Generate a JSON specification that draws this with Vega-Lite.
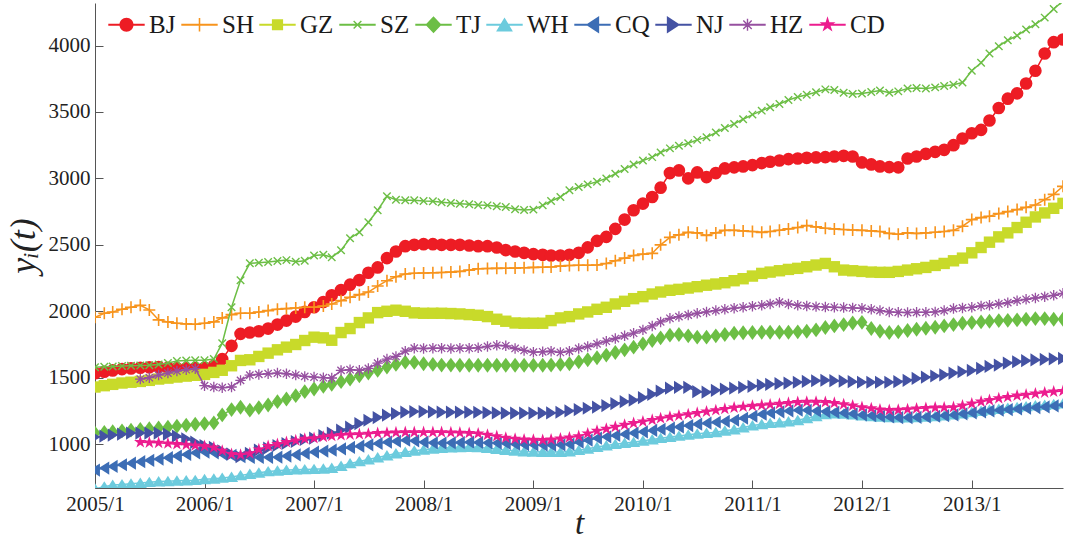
{
"$schema":"https://vega.github.io/schema/vega-lite/v6.json",
"width":968,"height":485,
"autosize":{"type":"none"},
"padding":{"left":95,"top":3,"right":2,"bottom":56},
"background":"white",
"config":{"view":{"stroke":null},"font":"'Liberation Serif', 'DejaVu Serif', 'Times New Roman', serif"},
"datasets":{"d":[
{"t":"2005-01","c":"BJ","v":1534},{"t":"2005-02","c":"BJ","v":1545},{"t":"2005-03","c":"BJ","v":1555},{"t":"2005-04","c":"BJ","v":1565},{"t":"2005-05","c":"BJ","v":1570},{"t":"2005-06","c":"BJ","v":1575},{"t":"2005-07","c":"BJ","v":1578},{"t":"2005-08","c":"BJ","v":1580},{"t":"2005-09","c":"BJ","v":1575},{"t":"2005-10","c":"BJ","v":1572},{"t":"2005-11","c":"BJ","v":1570},{"t":"2005-12","c":"BJ","v":1572},
{"t":"2006-01","c":"BJ","v":1575},{"t":"2006-02","c":"BJ","v":1590},{"t":"2006-03","c":"BJ","v":1640},{"t":"2006-04","c":"BJ","v":1740},{"t":"2006-05","c":"BJ","v":1830},{"t":"2006-06","c":"BJ","v":1840},{"t":"2006-07","c":"BJ","v":1850},{"t":"2006-08","c":"BJ","v":1870},{"t":"2006-09","c":"BJ","v":1900},{"t":"2006-10","c":"BJ","v":1930},{"t":"2006-11","c":"BJ","v":1960},{"t":"2006-12","c":"BJ","v":1995},
{"t":"2007-01","c":"BJ","v":2030},{"t":"2007-02","c":"BJ","v":2070},{"t":"2007-03","c":"BJ","v":2120},{"t":"2007-04","c":"BJ","v":2160},{"t":"2007-05","c":"BJ","v":2200},{"t":"2007-06","c":"BJ","v":2235},{"t":"2007-07","c":"BJ","v":2290},{"t":"2007-08","c":"BJ","v":2330},{"t":"2007-09","c":"BJ","v":2400},{"t":"2007-10","c":"BJ","v":2450},{"t":"2007-11","c":"BJ","v":2490},{"t":"2007-12","c":"BJ","v":2500},
{"t":"2008-01","c":"BJ","v":2505},{"t":"2008-02","c":"BJ","v":2505},{"t":"2008-03","c":"BJ","v":2500},{"t":"2008-04","c":"BJ","v":2500},{"t":"2008-05","c":"BJ","v":2500},{"t":"2008-06","c":"BJ","v":2495},{"t":"2008-07","c":"BJ","v":2490},{"t":"2008-08","c":"BJ","v":2490},{"t":"2008-09","c":"BJ","v":2480},{"t":"2008-10","c":"BJ","v":2460},{"t":"2008-11","c":"BJ","v":2450},{"t":"2008-12","c":"BJ","v":2440},
{"t":"2009-01","c":"BJ","v":2430},{"t":"2009-02","c":"BJ","v":2425},{"t":"2009-03","c":"BJ","v":2420},{"t":"2009-04","c":"BJ","v":2420},{"t":"2009-05","c":"BJ","v":2425},{"t":"2009-06","c":"BJ","v":2440},{"t":"2009-07","c":"BJ","v":2481},{"t":"2009-08","c":"BJ","v":2530},{"t":"2009-09","c":"BJ","v":2560},{"t":"2009-10","c":"BJ","v":2620},{"t":"2009-11","c":"BJ","v":2690},{"t":"2009-12","c":"BJ","v":2760},
{"t":"2010-01","c":"BJ","v":2810},{"t":"2010-02","c":"BJ","v":2860},{"t":"2010-03","c":"BJ","v":2930},{"t":"2010-04","c":"BJ","v":3040},{"t":"2010-05","c":"BJ","v":3060},{"t":"2010-06","c":"BJ","v":3000},{"t":"2010-07","c":"BJ","v":3045},{"t":"2010-08","c":"BJ","v":3010},{"t":"2010-09","c":"BJ","v":3040},{"t":"2010-10","c":"BJ","v":3075},{"t":"2010-11","c":"BJ","v":3083},{"t":"2010-12","c":"BJ","v":3090},
{"t":"2011-01","c":"BJ","v":3100},{"t":"2011-02","c":"BJ","v":3115},{"t":"2011-03","c":"BJ","v":3125},{"t":"2011-04","c":"BJ","v":3135},{"t":"2011-05","c":"BJ","v":3145},{"t":"2011-06","c":"BJ","v":3150},{"t":"2011-07","c":"BJ","v":3155},{"t":"2011-08","c":"BJ","v":3158},{"t":"2011-09","c":"BJ","v":3160},{"t":"2011-10","c":"BJ","v":3165},{"t":"2011-11","c":"BJ","v":3170},{"t":"2011-12","c":"BJ","v":3165},
{"t":"2012-01","c":"BJ","v":3120},{"t":"2012-02","c":"BJ","v":3105},{"t":"2012-03","c":"BJ","v":3090},{"t":"2012-04","c":"BJ","v":3085},{"t":"2012-05","c":"BJ","v":3083},{"t":"2012-06","c":"BJ","v":3150},{"t":"2012-07","c":"BJ","v":3165},{"t":"2012-08","c":"BJ","v":3185},{"t":"2012-09","c":"BJ","v":3200},{"t":"2012-10","c":"BJ","v":3215},{"t":"2012-11","c":"BJ","v":3250},{"t":"2012-12","c":"BJ","v":3300},
{"t":"2013-01","c":"BJ","v":3340},{"t":"2013-02","c":"BJ","v":3365},{"t":"2013-03","c":"BJ","v":3436},{"t":"2013-04","c":"BJ","v":3530},{"t":"2013-05","c":"BJ","v":3600},{"t":"2013-06","c":"BJ","v":3640},{"t":"2013-07","c":"BJ","v":3714},{"t":"2013-08","c":"BJ","v":3810},{"t":"2013-09","c":"BJ","v":3940},{"t":"2013-10","c":"BJ","v":4025},{"t":"2013-11","c":"BJ","v":4045},
{"t":"2005-01","c":"SH","v":1955},{"t":"2005-02","c":"SH","v":1985},{"t":"2005-03","c":"SH","v":1995},{"t":"2005-04","c":"SH","v":2015},{"t":"2005-05","c":"SH","v":2030},{"t":"2005-06","c":"SH","v":2045},{"t":"2005-07","c":"SH","v":2010},{"t":"2005-08","c":"SH","v":1935},{"t":"2005-09","c":"SH","v":1920},{"t":"2005-10","c":"SH","v":1910},{"t":"2005-11","c":"SH","v":1905},{"t":"2005-12","c":"SH","v":1902},
{"t":"2006-01","c":"SH","v":1910},{"t":"2006-02","c":"SH","v":1920},{"t":"2006-03","c":"SH","v":1950},{"t":"2006-04","c":"SH","v":1975},{"t":"2006-05","c":"SH","v":1985},{"t":"2006-06","c":"SH","v":1985},{"t":"2006-07","c":"SH","v":1995},{"t":"2006-08","c":"SH","v":2005},{"t":"2006-09","c":"SH","v":2015},{"t":"2006-10","c":"SH","v":2020},{"t":"2006-11","c":"SH","v":2025},{"t":"2006-12","c":"SH","v":2030},
{"t":"2007-01","c":"SH","v":2030},{"t":"2007-02","c":"SH","v":2040},{"t":"2007-03","c":"SH","v":2055},{"t":"2007-04","c":"SH","v":2080},{"t":"2007-05","c":"SH","v":2105},{"t":"2007-06","c":"SH","v":2125},{"t":"2007-07","c":"SH","v":2145},{"t":"2007-08","c":"SH","v":2190},{"t":"2007-09","c":"SH","v":2230},{"t":"2007-10","c":"SH","v":2260},{"t":"2007-11","c":"SH","v":2280},{"t":"2007-12","c":"SH","v":2286},
{"t":"2008-01","c":"SH","v":2288},{"t":"2008-02","c":"SH","v":2290},{"t":"2008-03","c":"SH","v":2292},{"t":"2008-04","c":"SH","v":2295},{"t":"2008-05","c":"SH","v":2300},{"t":"2008-06","c":"SH","v":2310},{"t":"2008-07","c":"SH","v":2320},{"t":"2008-08","c":"SH","v":2322},{"t":"2008-09","c":"SH","v":2323},{"t":"2008-10","c":"SH","v":2324},{"t":"2008-11","c":"SH","v":2325},{"t":"2008-12","c":"SH","v":2327},
{"t":"2009-01","c":"SH","v":2330},{"t":"2009-02","c":"SH","v":2331},{"t":"2009-03","c":"SH","v":2333},{"t":"2009-04","c":"SH","v":2340},{"t":"2009-05","c":"SH","v":2345},{"t":"2009-06","c":"SH","v":2346},{"t":"2009-07","c":"SH","v":2346},{"t":"2009-08","c":"SH","v":2348},{"t":"2009-09","c":"SH","v":2360},{"t":"2009-10","c":"SH","v":2380},{"t":"2009-11","c":"SH","v":2400},{"t":"2009-12","c":"SH","v":2420},
{"t":"2010-01","c":"SH","v":2430},{"t":"2010-02","c":"SH","v":2436},{"t":"2010-03","c":"SH","v":2500},{"t":"2010-04","c":"SH","v":2556},{"t":"2010-05","c":"SH","v":2575},{"t":"2010-06","c":"SH","v":2594},{"t":"2010-07","c":"SH","v":2590},{"t":"2010-08","c":"SH","v":2571},{"t":"2010-09","c":"SH","v":2590},{"t":"2010-10","c":"SH","v":2609},{"t":"2010-11","c":"SH","v":2609},{"t":"2010-12","c":"SH","v":2605},
{"t":"2011-01","c":"SH","v":2600},{"t":"2011-02","c":"SH","v":2594},{"t":"2011-03","c":"SH","v":2600},{"t":"2011-04","c":"SH","v":2610},{"t":"2011-05","c":"SH","v":2620},{"t":"2011-06","c":"SH","v":2630},{"t":"2011-07","c":"SH","v":2645},{"t":"2011-08","c":"SH","v":2635},{"t":"2011-09","c":"SH","v":2625},{"t":"2011-10","c":"SH","v":2620},{"t":"2011-11","c":"SH","v":2615},{"t":"2011-12","c":"SH","v":2612},
{"t":"2012-01","c":"SH","v":2609},{"t":"2012-02","c":"SH","v":2605},{"t":"2012-03","c":"SH","v":2600},{"t":"2012-04","c":"SH","v":2586},{"t":"2012-05","c":"SH","v":2580},{"t":"2012-06","c":"SH","v":2590},{"t":"2012-07","c":"SH","v":2586},{"t":"2012-08","c":"SH","v":2590},{"t":"2012-09","c":"SH","v":2595},{"t":"2012-10","c":"SH","v":2600},{"t":"2012-11","c":"SH","v":2609},{"t":"2012-12","c":"SH","v":2640},
{"t":"2013-01","c":"SH","v":2690},{"t":"2013-02","c":"SH","v":2705},{"t":"2013-03","c":"SH","v":2715},{"t":"2013-04","c":"SH","v":2735},{"t":"2013-05","c":"SH","v":2750},{"t":"2013-06","c":"SH","v":2765},{"t":"2013-07","c":"SH","v":2782},{"t":"2013-08","c":"SH","v":2800},{"t":"2013-09","c":"SH","v":2840},{"t":"2013-10","c":"SH","v":2880},{"t":"2013-11","c":"SH","v":2940},
{"t":"2005-01","c":"GZ","v":1430},{"t":"2005-02","c":"GZ","v":1440},{"t":"2005-03","c":"GZ","v":1450},{"t":"2005-04","c":"GZ","v":1460},{"t":"2005-05","c":"GZ","v":1466},{"t":"2005-06","c":"GZ","v":1472},{"t":"2005-07","c":"GZ","v":1480},{"t":"2005-08","c":"GZ","v":1490},{"t":"2005-09","c":"GZ","v":1497},{"t":"2005-10","c":"GZ","v":1505},{"t":"2005-11","c":"GZ","v":1512},{"t":"2005-12","c":"GZ","v":1518},
{"t":"2006-01","c":"GZ","v":1525},{"t":"2006-02","c":"GZ","v":1540},{"t":"2006-03","c":"GZ","v":1556},{"t":"2006-04","c":"GZ","v":1590},{"t":"2006-05","c":"GZ","v":1630},{"t":"2006-06","c":"GZ","v":1635},{"t":"2006-07","c":"GZ","v":1660},{"t":"2006-08","c":"GZ","v":1685},{"t":"2006-09","c":"GZ","v":1710},{"t":"2006-10","c":"GZ","v":1730},{"t":"2006-11","c":"GZ","v":1750},{"t":"2006-12","c":"GZ","v":1780},
{"t":"2007-01","c":"GZ","v":1805},{"t":"2007-02","c":"GZ","v":1800},{"t":"2007-03","c":"GZ","v":1782},{"t":"2007-04","c":"GZ","v":1840},{"t":"2007-05","c":"GZ","v":1870},{"t":"2007-06","c":"GZ","v":1915},{"t":"2007-07","c":"GZ","v":1950},{"t":"2007-08","c":"GZ","v":1990},{"t":"2007-09","c":"GZ","v":2000},{"t":"2007-10","c":"GZ","v":2008},{"t":"2007-11","c":"GZ","v":2000},{"t":"2007-12","c":"GZ","v":1988},
{"t":"2008-01","c":"GZ","v":1985},{"t":"2008-02","c":"GZ","v":1985},{"t":"2008-03","c":"GZ","v":1985},{"t":"2008-04","c":"GZ","v":1983},{"t":"2008-05","c":"GZ","v":1980},{"t":"2008-06","c":"GZ","v":1975},{"t":"2008-07","c":"GZ","v":1970},{"t":"2008-08","c":"GZ","v":1960},{"t":"2008-09","c":"GZ","v":1940},{"t":"2008-10","c":"GZ","v":1925},{"t":"2008-11","c":"GZ","v":1912},{"t":"2008-12","c":"GZ","v":1910},
{"t":"2009-01","c":"GZ","v":1910},{"t":"2009-02","c":"GZ","v":1910},{"t":"2009-03","c":"GZ","v":1930},{"t":"2009-04","c":"GZ","v":1950},{"t":"2009-05","c":"GZ","v":1960},{"t":"2009-06","c":"GZ","v":1980},{"t":"2009-07","c":"GZ","v":1995},{"t":"2009-08","c":"GZ","v":2015},{"t":"2009-09","c":"GZ","v":2030},{"t":"2009-10","c":"GZ","v":2055},{"t":"2009-11","c":"GZ","v":2075},{"t":"2009-12","c":"GZ","v":2095},
{"t":"2010-01","c":"GZ","v":2110},{"t":"2010-02","c":"GZ","v":2130},{"t":"2010-03","c":"GZ","v":2145},{"t":"2010-04","c":"GZ","v":2158},{"t":"2010-05","c":"GZ","v":2165},{"t":"2010-06","c":"GZ","v":2175},{"t":"2010-07","c":"GZ","v":2185},{"t":"2010-08","c":"GZ","v":2196},{"t":"2010-09","c":"GZ","v":2205},{"t":"2010-10","c":"GZ","v":2215},{"t":"2010-11","c":"GZ","v":2230},{"t":"2010-12","c":"GZ","v":2245},
{"t":"2011-01","c":"GZ","v":2265},{"t":"2011-02","c":"GZ","v":2285},{"t":"2011-03","c":"GZ","v":2295},{"t":"2011-04","c":"GZ","v":2305},{"t":"2011-05","c":"GZ","v":2315},{"t":"2011-06","c":"GZ","v":2323},{"t":"2011-07","c":"GZ","v":2335},{"t":"2011-08","c":"GZ","v":2348},{"t":"2011-09","c":"GZ","v":2360},{"t":"2011-10","c":"GZ","v":2335},{"t":"2011-11","c":"GZ","v":2310},{"t":"2011-12","c":"GZ","v":2305},
{"t":"2012-01","c":"GZ","v":2300},{"t":"2012-02","c":"GZ","v":2295},{"t":"2012-03","c":"GZ","v":2293},{"t":"2012-04","c":"GZ","v":2293},{"t":"2012-05","c":"GZ","v":2300},{"t":"2012-06","c":"GZ","v":2310},{"t":"2012-07","c":"GZ","v":2320},{"t":"2012-08","c":"GZ","v":2330},{"t":"2012-09","c":"GZ","v":2345},{"t":"2012-10","c":"GZ","v":2360},{"t":"2012-11","c":"GZ","v":2380},{"t":"2012-12","c":"GZ","v":2400},
{"t":"2013-01","c":"GZ","v":2440},{"t":"2013-02","c":"GZ","v":2480},{"t":"2013-03","c":"GZ","v":2520},{"t":"2013-04","c":"GZ","v":2560},{"t":"2013-05","c":"GZ","v":2590},{"t":"2013-06","c":"GZ","v":2630},{"t":"2013-07","c":"GZ","v":2670},{"t":"2013-08","c":"GZ","v":2710},{"t":"2013-09","c":"GZ","v":2740},{"t":"2013-10","c":"GZ","v":2775},{"t":"2013-11","c":"GZ","v":2812},
{"t":"2005-01","c":"SZ","v":1579},{"t":"2005-02","c":"SZ","v":1582},{"t":"2005-03","c":"SZ","v":1585},{"t":"2005-04","c":"SZ","v":1588},{"t":"2005-05","c":"SZ","v":1590},{"t":"2005-06","c":"SZ","v":1592},{"t":"2005-07","c":"SZ","v":1594},{"t":"2005-08","c":"SZ","v":1600},{"t":"2005-09","c":"SZ","v":1610},{"t":"2005-10","c":"SZ","v":1625},{"t":"2005-11","c":"SZ","v":1630},{"t":"2005-12","c":"SZ","v":1632},
{"t":"2006-01","c":"SZ","v":1632},{"t":"2006-02","c":"SZ","v":1640},{"t":"2006-03","c":"SZ","v":1760},{"t":"2006-04","c":"SZ","v":2030},{"t":"2006-05","c":"SZ","v":2233},{"t":"2006-06","c":"SZ","v":2361},{"t":"2006-07","c":"SZ","v":2365},{"t":"2006-08","c":"SZ","v":2370},{"t":"2006-09","c":"SZ","v":2378},{"t":"2006-10","c":"SZ","v":2385},{"t":"2006-11","c":"SZ","v":2372},{"t":"2006-12","c":"SZ","v":2380},
{"t":"2007-01","c":"SZ","v":2420},{"t":"2007-02","c":"SZ","v":2425},{"t":"2007-03","c":"SZ","v":2406},{"t":"2007-04","c":"SZ","v":2460},{"t":"2007-05","c":"SZ","v":2550},{"t":"2007-06","c":"SZ","v":2594},{"t":"2007-07","c":"SZ","v":2670},{"t":"2007-08","c":"SZ","v":2760},{"t":"2007-09","c":"SZ","v":2865},{"t":"2007-10","c":"SZ","v":2840},{"t":"2007-11","c":"SZ","v":2835},{"t":"2007-12","c":"SZ","v":2835},
{"t":"2008-01","c":"SZ","v":2830},{"t":"2008-02","c":"SZ","v":2828},{"t":"2008-03","c":"SZ","v":2820},{"t":"2008-04","c":"SZ","v":2815},{"t":"2008-05","c":"SZ","v":2810},{"t":"2008-06","c":"SZ","v":2805},{"t":"2008-07","c":"SZ","v":2800},{"t":"2008-08","c":"SZ","v":2797},{"t":"2008-09","c":"SZ","v":2790},{"t":"2008-10","c":"SZ","v":2785},{"t":"2008-11","c":"SZ","v":2768},{"t":"2008-12","c":"SZ","v":2762},
{"t":"2009-01","c":"SZ","v":2765},{"t":"2009-02","c":"SZ","v":2797},{"t":"2009-03","c":"SZ","v":2830},{"t":"2009-04","c":"SZ","v":2860},{"t":"2009-05","c":"SZ","v":2910},{"t":"2009-06","c":"SZ","v":2935},{"t":"2009-07","c":"SZ","v":2955},{"t":"2009-08","c":"SZ","v":2975},{"t":"2009-09","c":"SZ","v":3000},{"t":"2009-10","c":"SZ","v":3035},{"t":"2009-11","c":"SZ","v":3070},{"t":"2009-12","c":"SZ","v":3105},
{"t":"2010-01","c":"SZ","v":3135},{"t":"2010-02","c":"SZ","v":3160},{"t":"2010-03","c":"SZ","v":3195},{"t":"2010-04","c":"SZ","v":3226},{"t":"2010-05","c":"SZ","v":3245},{"t":"2010-06","c":"SZ","v":3265},{"t":"2010-07","c":"SZ","v":3290},{"t":"2010-08","c":"SZ","v":3310},{"t":"2010-09","c":"SZ","v":3345},{"t":"2010-10","c":"SZ","v":3380},{"t":"2010-11","c":"SZ","v":3410},{"t":"2010-12","c":"SZ","v":3445},
{"t":"2011-01","c":"SZ","v":3480},{"t":"2011-02","c":"SZ","v":3510},{"t":"2011-03","c":"SZ","v":3535},{"t":"2011-04","c":"SZ","v":3560},{"t":"2011-05","c":"SZ","v":3590},{"t":"2011-06","c":"SZ","v":3612},{"t":"2011-07","c":"SZ","v":3630},{"t":"2011-08","c":"SZ","v":3648},{"t":"2011-09","c":"SZ","v":3670},{"t":"2011-10","c":"SZ","v":3665},{"t":"2011-11","c":"SZ","v":3645},{"t":"2011-12","c":"SZ","v":3635},
{"t":"2012-01","c":"SZ","v":3639},{"t":"2012-02","c":"SZ","v":3650},{"t":"2012-03","c":"SZ","v":3662},{"t":"2012-04","c":"SZ","v":3645},{"t":"2012-05","c":"SZ","v":3655},{"t":"2012-06","c":"SZ","v":3677},{"t":"2012-07","c":"SZ","v":3680},{"t":"2012-08","c":"SZ","v":3677},{"t":"2012-09","c":"SZ","v":3685},{"t":"2012-10","c":"SZ","v":3695},{"t":"2012-11","c":"SZ","v":3705},{"t":"2012-12","c":"SZ","v":3722},
{"t":"2013-01","c":"SZ","v":3810},{"t":"2013-02","c":"SZ","v":3870},{"t":"2013-03","c":"SZ","v":3940},{"t":"2013-04","c":"SZ","v":3995},{"t":"2013-05","c":"SZ","v":4040},{"t":"2013-06","c":"SZ","v":4075},{"t":"2013-07","c":"SZ","v":4120},{"t":"2013-08","c":"SZ","v":4160},{"t":"2013-09","c":"SZ","v":4210},{"t":"2013-10","c":"SZ","v":4275},{"t":"2013-11","c":"SZ","v":4335},
{"t":"2005-01","c":"TJ","v":1083},{"t":"2005-02","c":"TJ","v":1088},{"t":"2005-03","c":"TJ","v":1094},{"t":"2005-04","c":"TJ","v":1100},{"t":"2005-05","c":"TJ","v":1105},{"t":"2005-06","c":"TJ","v":1110},{"t":"2005-07","c":"TJ","v":1116},{"t":"2005-08","c":"TJ","v":1122},{"t":"2005-09","c":"TJ","v":1128},{"t":"2005-10","c":"TJ","v":1135},{"t":"2005-11","c":"TJ","v":1142},{"t":"2005-12","c":"TJ","v":1150},
{"t":"2006-01","c":"TJ","v":1155},{"t":"2006-02","c":"TJ","v":1160},{"t":"2006-03","c":"TJ","v":1220},{"t":"2006-04","c":"TJ","v":1260},{"t":"2006-05","c":"TJ","v":1278},{"t":"2006-06","c":"TJ","v":1256},{"t":"2006-07","c":"TJ","v":1275},{"t":"2006-08","c":"TJ","v":1295},{"t":"2006-09","c":"TJ","v":1320},{"t":"2006-10","c":"TJ","v":1340},{"t":"2006-11","c":"TJ","v":1365},{"t":"2006-12","c":"TJ","v":1395},
{"t":"2007-01","c":"TJ","v":1415},{"t":"2007-02","c":"TJ","v":1435},{"t":"2007-03","c":"TJ","v":1450},{"t":"2007-04","c":"TJ","v":1470},{"t":"2007-05","c":"TJ","v":1490},{"t":"2007-06","c":"TJ","v":1515},{"t":"2007-07","c":"TJ","v":1535},{"t":"2007-08","c":"TJ","v":1556},{"t":"2007-09","c":"TJ","v":1580},{"t":"2007-10","c":"TJ","v":1600},{"t":"2007-11","c":"TJ","v":1617},{"t":"2007-12","c":"TJ","v":1615},
{"t":"2008-01","c":"TJ","v":1605},{"t":"2008-02","c":"TJ","v":1600},{"t":"2008-03","c":"TJ","v":1595},{"t":"2008-04","c":"TJ","v":1595},{"t":"2008-05","c":"TJ","v":1594},{"t":"2008-06","c":"TJ","v":1594},{"t":"2008-07","c":"TJ","v":1594},{"t":"2008-08","c":"TJ","v":1594},{"t":"2008-09","c":"TJ","v":1594},{"t":"2008-10","c":"TJ","v":1594},{"t":"2008-11","c":"TJ","v":1594},{"t":"2008-12","c":"TJ","v":1594},
{"t":"2009-01","c":"TJ","v":1594},{"t":"2009-02","c":"TJ","v":1594},{"t":"2009-03","c":"TJ","v":1596},{"t":"2009-04","c":"TJ","v":1600},{"t":"2009-05","c":"TJ","v":1605},{"t":"2009-06","c":"TJ","v":1620},{"t":"2009-07","c":"TJ","v":1635},{"t":"2009-08","c":"TJ","v":1650},{"t":"2009-09","c":"TJ","v":1670},{"t":"2009-10","c":"TJ","v":1690},{"t":"2009-11","c":"TJ","v":1710},{"t":"2009-12","c":"TJ","v":1730},
{"t":"2010-01","c":"TJ","v":1755},{"t":"2010-02","c":"TJ","v":1780},{"t":"2010-03","c":"TJ","v":1800},{"t":"2010-04","c":"TJ","v":1820},{"t":"2010-05","c":"TJ","v":1825},{"t":"2010-06","c":"TJ","v":1815},{"t":"2010-07","c":"TJ","v":1805},{"t":"2010-08","c":"TJ","v":1805},{"t":"2010-09","c":"TJ","v":1815},{"t":"2010-10","c":"TJ","v":1825},{"t":"2010-11","c":"TJ","v":1835},{"t":"2010-12","c":"TJ","v":1838},
{"t":"2011-01","c":"TJ","v":1840},{"t":"2011-02","c":"TJ","v":1842},{"t":"2011-03","c":"TJ","v":1842},{"t":"2011-04","c":"TJ","v":1842},{"t":"2011-05","c":"TJ","v":1842},{"t":"2011-06","c":"TJ","v":1845},{"t":"2011-07","c":"TJ","v":1850},{"t":"2011-08","c":"TJ","v":1860},{"t":"2011-09","c":"TJ","v":1878},{"t":"2011-10","c":"TJ","v":1890},{"t":"2011-11","c":"TJ","v":1900},{"t":"2011-12","c":"TJ","v":1912},
{"t":"2012-01","c":"TJ","v":1917},{"t":"2012-02","c":"TJ","v":1870},{"t":"2012-03","c":"TJ","v":1850},{"t":"2012-04","c":"TJ","v":1840},{"t":"2012-05","c":"TJ","v":1845},{"t":"2012-06","c":"TJ","v":1855},{"t":"2012-07","c":"TJ","v":1865},{"t":"2012-08","c":"TJ","v":1872},{"t":"2012-09","c":"TJ","v":1880},{"t":"2012-10","c":"TJ","v":1890},{"t":"2012-11","c":"TJ","v":1900},{"t":"2012-12","c":"TJ","v":1910},
{"t":"2013-01","c":"TJ","v":1915},{"t":"2013-02","c":"TJ","v":1920},{"t":"2013-03","c":"TJ","v":1925},{"t":"2013-04","c":"TJ","v":1930},{"t":"2013-05","c":"TJ","v":1932},{"t":"2013-06","c":"TJ","v":1935},{"t":"2013-07","c":"TJ","v":1940},{"t":"2013-08","c":"TJ","v":1945},{"t":"2013-09","c":"TJ","v":1945},{"t":"2013-10","c":"TJ","v":1940},{"t":"2013-11","c":"TJ","v":1940},
{"t":"2005-01","c":"WH","v":665},{"t":"2005-02","c":"WH","v":680},{"t":"2005-03","c":"WH","v":692},{"t":"2005-04","c":"WH","v":697},{"t":"2005-05","c":"WH","v":702},{"t":"2005-06","c":"WH","v":707},{"t":"2005-07","c":"WH","v":714},{"t":"2005-08","c":"WH","v":718},{"t":"2005-09","c":"WH","v":721},{"t":"2005-10","c":"WH","v":724},{"t":"2005-11","c":"WH","v":727},{"t":"2005-12","c":"WH","v":729},
{"t":"2006-01","c":"WH","v":735},{"t":"2006-02","c":"WH","v":740},{"t":"2006-03","c":"WH","v":746},{"t":"2006-04","c":"WH","v":752},{"t":"2006-05","c":"WH","v":765},{"t":"2006-06","c":"WH","v":775},{"t":"2006-07","c":"WH","v":785},{"t":"2006-08","c":"WH","v":795},{"t":"2006-09","c":"WH","v":800},{"t":"2006-10","c":"WH","v":805},{"t":"2006-11","c":"WH","v":808},{"t":"2006-12","c":"WH","v":810},
{"t":"2007-01","c":"WH","v":812},{"t":"2007-02","c":"WH","v":815},{"t":"2007-03","c":"WH","v":820},{"t":"2007-04","c":"WH","v":835},{"t":"2007-05","c":"WH","v":855},{"t":"2007-06","c":"WH","v":870},{"t":"2007-07","c":"WH","v":885},{"t":"2007-08","c":"WH","v":900},{"t":"2007-09","c":"WH","v":915},{"t":"2007-10","c":"WH","v":930},{"t":"2007-11","c":"WH","v":940},{"t":"2007-12","c":"WH","v":950},
{"t":"2008-01","c":"WH","v":958},{"t":"2008-02","c":"WH","v":965},{"t":"2008-03","c":"WH","v":970},{"t":"2008-04","c":"WH","v":974},{"t":"2008-05","c":"WH","v":977},{"t":"2008-06","c":"WH","v":978},{"t":"2008-07","c":"WH","v":976},{"t":"2008-08","c":"WH","v":970},{"t":"2008-09","c":"WH","v":963},{"t":"2008-10","c":"WH","v":955},{"t":"2008-11","c":"WH","v":950},{"t":"2008-12","c":"WH","v":945},
{"t":"2009-01","c":"WH","v":942},{"t":"2009-02","c":"WH","v":940},{"t":"2009-03","c":"WH","v":940},{"t":"2009-04","c":"WH","v":940},{"t":"2009-05","c":"WH","v":945},{"t":"2009-06","c":"WH","v":955},{"t":"2009-07","c":"WH","v":965},{"t":"2009-08","c":"WH","v":978},{"t":"2009-09","c":"WH","v":990},{"t":"2009-10","c":"WH","v":1000},{"t":"2009-11","c":"WH","v":1008},{"t":"2009-12","c":"WH","v":1015},
{"t":"2010-01","c":"WH","v":1025},{"t":"2010-02","c":"WH","v":1035},{"t":"2010-03","c":"WH","v":1045},{"t":"2010-04","c":"WH","v":1053},{"t":"2010-05","c":"WH","v":1062},{"t":"2010-06","c":"WH","v":1070},{"t":"2010-07","c":"WH","v":1078},{"t":"2010-08","c":"WH","v":1083},{"t":"2010-09","c":"WH","v":1090},{"t":"2010-10","c":"WH","v":1100},{"t":"2010-11","c":"WH","v":1110},{"t":"2010-12","c":"WH","v":1125},
{"t":"2011-01","c":"WH","v":1140},{"t":"2011-02","c":"WH","v":1150},{"t":"2011-03","c":"WH","v":1158},{"t":"2011-04","c":"WH","v":1163},{"t":"2011-05","c":"WH","v":1170},{"t":"2011-06","c":"WH","v":1180},{"t":"2011-07","c":"WH","v":1195},{"t":"2011-08","c":"WH","v":1210},{"t":"2011-09","c":"WH","v":1225},{"t":"2011-10","c":"WH","v":1230},{"t":"2011-11","c":"WH","v":1228},{"t":"2011-12","c":"WH","v":1222},
{"t":"2012-01","c":"WH","v":1216},{"t":"2012-02","c":"WH","v":1210},{"t":"2012-03","c":"WH","v":1205},{"t":"2012-04","c":"WH","v":1202},{"t":"2012-05","c":"WH","v":1200},{"t":"2012-06","c":"WH","v":1200},{"t":"2012-07","c":"WH","v":1202},{"t":"2012-08","c":"WH","v":1205},{"t":"2012-09","c":"WH","v":1210},{"t":"2012-10","c":"WH","v":1215},{"t":"2012-11","c":"WH","v":1222},{"t":"2012-12","c":"WH","v":1230},
{"t":"2013-01","c":"WH","v":1240},{"t":"2013-02","c":"WH","v":1250},{"t":"2013-03","c":"WH","v":1258},{"t":"2013-04","c":"WH","v":1265},{"t":"2013-05","c":"WH","v":1272},{"t":"2013-06","c":"WH","v":1278},{"t":"2013-07","c":"WH","v":1284},{"t":"2013-08","c":"WH","v":1290},{"t":"2013-09","c":"WH","v":1295},{"t":"2013-10","c":"WH","v":1300},{"t":"2013-11","c":"WH","v":1305},
{"t":"2005-01","c":"CQ","v":805},{"t":"2005-02","c":"CQ","v":820},{"t":"2005-03","c":"CQ","v":832},{"t":"2005-04","c":"CQ","v":845},{"t":"2005-05","c":"CQ","v":857},{"t":"2005-06","c":"CQ","v":868},{"t":"2005-07","c":"CQ","v":878},{"t":"2005-08","c":"CQ","v":888},{"t":"2005-09","c":"CQ","v":898},{"t":"2005-10","c":"CQ","v":910},{"t":"2005-11","c":"CQ","v":922},{"t":"2005-12","c":"CQ","v":935},
{"t":"2006-01","c":"CQ","v":940},{"t":"2006-02","c":"CQ","v":935},{"t":"2006-03","c":"CQ","v":925},{"t":"2006-04","c":"CQ","v":915},{"t":"2006-05","c":"CQ","v":905},{"t":"2006-06","c":"CQ","v":900},{"t":"2006-07","c":"CQ","v":900},{"t":"2006-08","c":"CQ","v":901},{"t":"2006-09","c":"CQ","v":902},{"t":"2006-10","c":"CQ","v":910},{"t":"2006-11","c":"CQ","v":920},{"t":"2006-12","c":"CQ","v":930},
{"t":"2007-01","c":"CQ","v":940},{"t":"2007-02","c":"CQ","v":948},{"t":"2007-03","c":"CQ","v":955},{"t":"2007-04","c":"CQ","v":965},{"t":"2007-05","c":"CQ","v":975},{"t":"2007-06","c":"CQ","v":985},{"t":"2007-07","c":"CQ","v":995},{"t":"2007-08","c":"CQ","v":1005},{"t":"2007-09","c":"CQ","v":1015},{"t":"2007-10","c":"CQ","v":1022},{"t":"2007-11","c":"CQ","v":1030},{"t":"2007-12","c":"CQ","v":1025},
{"t":"2008-01","c":"CQ","v":1015},{"t":"2008-02","c":"CQ","v":1010},{"t":"2008-03","c":"CQ","v":1008},{"t":"2008-04","c":"CQ","v":1010},{"t":"2008-05","c":"CQ","v":1012},{"t":"2008-06","c":"CQ","v":1015},{"t":"2008-07","c":"CQ","v":1013},{"t":"2008-08","c":"CQ","v":1010},{"t":"2008-09","c":"CQ","v":1008},{"t":"2008-10","c":"CQ","v":1005},{"t":"2008-11","c":"CQ","v":1000},{"t":"2008-12","c":"CQ","v":997},
{"t":"2009-01","c":"CQ","v":995},{"t":"2009-02","c":"CQ","v":993},{"t":"2009-03","c":"CQ","v":993},{"t":"2009-04","c":"CQ","v":995},{"t":"2009-05","c":"CQ","v":1000},{"t":"2009-06","c":"CQ","v":1015},{"t":"2009-07","c":"CQ","v":1030},{"t":"2009-08","c":"CQ","v":1045},{"t":"2009-09","c":"CQ","v":1055},{"t":"2009-10","c":"CQ","v":1065},{"t":"2009-11","c":"CQ","v":1075},{"t":"2009-12","c":"CQ","v":1083},
{"t":"2010-01","c":"CQ","v":1093},{"t":"2010-02","c":"CQ","v":1103},{"t":"2010-03","c":"CQ","v":1112},{"t":"2010-04","c":"CQ","v":1120},{"t":"2010-05","c":"CQ","v":1130},{"t":"2010-06","c":"CQ","v":1140},{"t":"2010-07","c":"CQ","v":1150},{"t":"2010-08","c":"CQ","v":1158},{"t":"2010-09","c":"CQ","v":1165},{"t":"2010-10","c":"CQ","v":1172},{"t":"2010-11","c":"CQ","v":1180},{"t":"2010-12","c":"CQ","v":1195},
{"t":"2011-01","c":"CQ","v":1210},{"t":"2011-02","c":"CQ","v":1225},{"t":"2011-03","c":"CQ","v":1235},{"t":"2011-04","c":"CQ","v":1243},{"t":"2011-05","c":"CQ","v":1250},{"t":"2011-06","c":"CQ","v":1256},{"t":"2011-07","c":"CQ","v":1255},{"t":"2011-08","c":"CQ","v":1250},{"t":"2011-09","c":"CQ","v":1245},{"t":"2011-10","c":"CQ","v":1240},{"t":"2011-11","c":"CQ","v":1235},{"t":"2011-12","c":"CQ","v":1228},
{"t":"2012-01","c":"CQ","v":1220},{"t":"2012-02","c":"CQ","v":1215},{"t":"2012-03","c":"CQ","v":1210},{"t":"2012-04","c":"CQ","v":1205},{"t":"2012-05","c":"CQ","v":1200},{"t":"2012-06","c":"CQ","v":1200},{"t":"2012-07","c":"CQ","v":1202},{"t":"2012-08","c":"CQ","v":1205},{"t":"2012-09","c":"CQ","v":1210},{"t":"2012-10","c":"CQ","v":1215},{"t":"2012-11","c":"CQ","v":1220},{"t":"2012-12","c":"CQ","v":1228},
{"t":"2013-01","c":"CQ","v":1236},{"t":"2013-02","c":"CQ","v":1243},{"t":"2013-03","c":"CQ","v":1250},{"t":"2013-04","c":"CQ","v":1255},{"t":"2013-05","c":"CQ","v":1260},{"t":"2013-06","c":"CQ","v":1265},{"t":"2013-07","c":"CQ","v":1270},{"t":"2013-08","c":"CQ","v":1275},{"t":"2013-09","c":"CQ","v":1280},{"t":"2013-10","c":"CQ","v":1288},{"t":"2013-11","c":"CQ","v":1295},
{"t":"2005-01","c":"NJ","v":1053},{"t":"2005-02","c":"NJ","v":1060},{"t":"2005-03","c":"NJ","v":1068},{"t":"2005-04","c":"NJ","v":1075},{"t":"2005-05","c":"NJ","v":1083},{"t":"2005-06","c":"NJ","v":1083},{"t":"2005-07","c":"NJ","v":1083},{"t":"2005-08","c":"NJ","v":1083},{"t":"2005-09","c":"NJ","v":1075},{"t":"2005-10","c":"NJ","v":1060},{"t":"2005-11","c":"NJ","v":1040},{"t":"2005-12","c":"NJ","v":1015},
{"t":"2006-01","c":"NJ","v":990},{"t":"2006-02","c":"NJ","v":975},{"t":"2006-03","c":"NJ","v":950},{"t":"2006-04","c":"NJ","v":925},{"t":"2006-05","c":"NJ","v":905},{"t":"2006-06","c":"NJ","v":930},{"t":"2006-07","c":"NJ","v":955},{"t":"2006-08","c":"NJ","v":970},{"t":"2006-09","c":"NJ","v":990},{"t":"2006-10","c":"NJ","v":1005},{"t":"2006-11","c":"NJ","v":1020},{"t":"2006-12","c":"NJ","v":1035},
{"t":"2007-01","c":"NJ","v":1045},{"t":"2007-02","c":"NJ","v":1065},{"t":"2007-03","c":"NJ","v":1083},{"t":"2007-04","c":"NJ","v":1105},{"t":"2007-05","c":"NJ","v":1128},{"t":"2007-06","c":"NJ","v":1155},{"t":"2007-07","c":"NJ","v":1180},{"t":"2007-08","c":"NJ","v":1200},{"t":"2007-09","c":"NJ","v":1218},{"t":"2007-10","c":"NJ","v":1230},{"t":"2007-11","c":"NJ","v":1241},{"t":"2007-12","c":"NJ","v":1245},
{"t":"2008-01","c":"NJ","v":1245},{"t":"2008-02","c":"NJ","v":1243},{"t":"2008-03","c":"NJ","v":1241},{"t":"2008-04","c":"NJ","v":1241},{"t":"2008-05","c":"NJ","v":1241},{"t":"2008-06","c":"NJ","v":1241},{"t":"2008-07","c":"NJ","v":1240},{"t":"2008-08","c":"NJ","v":1238},{"t":"2008-09","c":"NJ","v":1235},{"t":"2008-10","c":"NJ","v":1233},{"t":"2008-11","c":"NJ","v":1233},{"t":"2008-12","c":"NJ","v":1233},
{"t":"2009-01","c":"NJ","v":1233},{"t":"2009-02","c":"NJ","v":1233},{"t":"2009-03","c":"NJ","v":1235},{"t":"2009-04","c":"NJ","v":1240},{"t":"2009-05","c":"NJ","v":1250},{"t":"2009-06","c":"NJ","v":1260},{"t":"2009-07","c":"NJ","v":1270},{"t":"2009-08","c":"NJ","v":1278},{"t":"2009-09","c":"NJ","v":1290},{"t":"2009-10","c":"NJ","v":1305},{"t":"2009-11","c":"NJ","v":1320},{"t":"2009-12","c":"NJ","v":1331},
{"t":"2010-01","c":"NJ","v":1350},{"t":"2010-02","c":"NJ","v":1375},{"t":"2010-03","c":"NJ","v":1400},{"t":"2010-04","c":"NJ","v":1421},{"t":"2010-05","c":"NJ","v":1428},{"t":"2010-06","c":"NJ","v":1428},{"t":"2010-07","c":"NJ","v":1395},{"t":"2010-08","c":"NJ","v":1391},{"t":"2010-09","c":"NJ","v":1405},{"t":"2010-10","c":"NJ","v":1415},{"t":"2010-11","c":"NJ","v":1421},{"t":"2010-12","c":"NJ","v":1428},
{"t":"2011-01","c":"NJ","v":1435},{"t":"2011-02","c":"NJ","v":1444},{"t":"2011-03","c":"NJ","v":1450},{"t":"2011-04","c":"NJ","v":1455},{"t":"2011-05","c":"NJ","v":1460},{"t":"2011-06","c":"NJ","v":1466},{"t":"2011-07","c":"NJ","v":1472},{"t":"2011-08","c":"NJ","v":1477},{"t":"2011-09","c":"NJ","v":1481},{"t":"2011-10","c":"NJ","v":1478},{"t":"2011-11","c":"NJ","v":1474},{"t":"2011-12","c":"NJ","v":1470},
{"t":"2012-01","c":"NJ","v":1466},{"t":"2012-02","c":"NJ","v":1466},{"t":"2012-03","c":"NJ","v":1466},{"t":"2012-04","c":"NJ","v":1466},{"t":"2012-05","c":"NJ","v":1470},{"t":"2012-06","c":"NJ","v":1480},{"t":"2012-07","c":"NJ","v":1495},{"t":"2012-08","c":"NJ","v":1504},{"t":"2012-09","c":"NJ","v":1513},{"t":"2012-10","c":"NJ","v":1522},{"t":"2012-11","c":"NJ","v":1535},{"t":"2012-12","c":"NJ","v":1545},
{"t":"2013-01","c":"NJ","v":1555},{"t":"2013-02","c":"NJ","v":1570},{"t":"2013-03","c":"NJ","v":1585},{"t":"2013-04","c":"NJ","v":1595},{"t":"2013-05","c":"NJ","v":1610},{"t":"2013-06","c":"NJ","v":1620},{"t":"2013-07","c":"NJ","v":1628},{"t":"2013-08","c":"NJ","v":1634},{"t":"2013-09","c":"NJ","v":1638},{"t":"2013-10","c":"NJ","v":1642},{"t":"2013-11","c":"NJ","v":1645},
{"t":"2005-06","c":"HZ","v":1490},{"t":"2005-07","c":"HZ","v":1500},{"t":"2005-08","c":"HZ","v":1520},{"t":"2005-09","c":"HZ","v":1535},{"t":"2005-10","c":"HZ","v":1550},{"t":"2005-11","c":"HZ","v":1560},{"t":"2005-12","c":"HZ","v":1568},
{"t":"2006-01","c":"HZ","v":1440},{"t":"2006-02","c":"HZ","v":1430},{"t":"2006-03","c":"HZ","v":1425},{"t":"2006-04","c":"HZ","v":1430},{"t":"2006-05","c":"HZ","v":1480},{"t":"2006-06","c":"HZ","v":1519},{"t":"2006-07","c":"HZ","v":1525},{"t":"2006-08","c":"HZ","v":1530},{"t":"2006-09","c":"HZ","v":1535},{"t":"2006-10","c":"HZ","v":1530},{"t":"2006-11","c":"HZ","v":1520},{"t":"2006-12","c":"HZ","v":1510},
{"t":"2007-01","c":"HZ","v":1505},{"t":"2007-02","c":"HZ","v":1500},{"t":"2007-03","c":"HZ","v":1498},{"t":"2007-04","c":"HZ","v":1555},{"t":"2007-05","c":"HZ","v":1560},{"t":"2007-06","c":"HZ","v":1556},{"t":"2007-07","c":"HZ","v":1570},{"t":"2007-08","c":"HZ","v":1610},{"t":"2007-09","c":"HZ","v":1640},{"t":"2007-10","c":"HZ","v":1660},{"t":"2007-11","c":"HZ","v":1700},{"t":"2007-12","c":"HZ","v":1722},
{"t":"2008-01","c":"HZ","v":1720},{"t":"2008-02","c":"HZ","v":1722},{"t":"2008-03","c":"HZ","v":1722},{"t":"2008-04","c":"HZ","v":1720},{"t":"2008-05","c":"HZ","v":1722},{"t":"2008-06","c":"HZ","v":1722},{"t":"2008-07","c":"HZ","v":1725},{"t":"2008-08","c":"HZ","v":1735},{"t":"2008-09","c":"HZ","v":1744},{"t":"2008-10","c":"HZ","v":1740},{"t":"2008-11","c":"HZ","v":1720},{"t":"2008-12","c":"HZ","v":1705},
{"t":"2009-01","c":"HZ","v":1692},{"t":"2009-02","c":"HZ","v":1695},{"t":"2009-03","c":"HZ","v":1700},{"t":"2009-04","c":"HZ","v":1690},{"t":"2009-05","c":"HZ","v":1700},{"t":"2009-06","c":"HZ","v":1720},{"t":"2009-07","c":"HZ","v":1735},{"t":"2009-08","c":"HZ","v":1755},{"t":"2009-09","c":"HZ","v":1775},{"t":"2009-10","c":"HZ","v":1795},{"t":"2009-11","c":"HZ","v":1815},{"t":"2009-12","c":"HZ","v":1835},
{"t":"2010-01","c":"HZ","v":1860},{"t":"2010-02","c":"HZ","v":1890},{"t":"2010-03","c":"HZ","v":1920},{"t":"2010-04","c":"HZ","v":1947},{"t":"2010-05","c":"HZ","v":1960},{"t":"2010-06","c":"HZ","v":1972},{"t":"2010-07","c":"HZ","v":1985},{"t":"2010-08","c":"HZ","v":1995},{"t":"2010-09","c":"HZ","v":2005},{"t":"2010-10","c":"HZ","v":2015},{"t":"2010-11","c":"HZ","v":2023},{"t":"2010-12","c":"HZ","v":2030},
{"t":"2011-01","c":"HZ","v":2038},{"t":"2011-02","c":"HZ","v":2045},{"t":"2011-03","c":"HZ","v":2055},{"t":"2011-04","c":"HZ","v":2068},{"t":"2011-05","c":"HZ","v":2055},{"t":"2011-06","c":"HZ","v":2045},{"t":"2011-07","c":"HZ","v":2040},{"t":"2011-08","c":"HZ","v":2035},{"t":"2011-09","c":"HZ","v":2032},{"t":"2011-10","c":"HZ","v":2030},{"t":"2011-11","c":"HZ","v":2028},{"t":"2011-12","c":"HZ","v":2025},
{"t":"2012-01","c":"HZ","v":2023},{"t":"2012-02","c":"HZ","v":2015},{"t":"2012-03","c":"HZ","v":2005},{"t":"2012-04","c":"HZ","v":1995},{"t":"2012-05","c":"HZ","v":1992},{"t":"2012-06","c":"HZ","v":1990},{"t":"2012-07","c":"HZ","v":1992},{"t":"2012-08","c":"HZ","v":1992},{"t":"2012-09","c":"HZ","v":1995},{"t":"2012-10","c":"HZ","v":2005},{"t":"2012-11","c":"HZ","v":2020},{"t":"2012-12","c":"HZ","v":2025},
{"t":"2013-01","c":"HZ","v":2030},{"t":"2013-02","c":"HZ","v":2040},{"t":"2013-03","c":"HZ","v":2045},{"t":"2013-04","c":"HZ","v":2055},{"t":"2013-05","c":"HZ","v":2065},{"t":"2013-06","c":"HZ","v":2080},{"t":"2013-07","c":"HZ","v":2090},{"t":"2013-08","c":"HZ","v":2100},{"t":"2013-09","c":"HZ","v":2110},{"t":"2013-10","c":"HZ","v":2120},{"t":"2013-11","c":"HZ","v":2135},
{"t":"2005-06","c":"CD","v":1015},{"t":"2005-07","c":"CD","v":1012},{"t":"2005-08","c":"CD","v":1010},{"t":"2005-09","c":"CD","v":1005},{"t":"2005-10","c":"CD","v":1000},{"t":"2005-11","c":"CD","v":995},{"t":"2005-12","c":"CD","v":990},
{"t":"2006-01","c":"CD","v":985},{"t":"2006-02","c":"CD","v":975},{"t":"2006-03","c":"CD","v":950},{"t":"2006-04","c":"CD","v":925},{"t":"2006-05","c":"CD","v":920},{"t":"2006-06","c":"CD","v":930},{"t":"2006-07","c":"CD","v":960},{"t":"2006-08","c":"CD","v":985},{"t":"2006-09","c":"CD","v":1000},{"t":"2006-10","c":"CD","v":1015},{"t":"2006-11","c":"CD","v":1028},{"t":"2006-12","c":"CD","v":1040},
{"t":"2007-01","c":"CD","v":1045},{"t":"2007-02","c":"CD","v":1055},{"t":"2007-03","c":"CD","v":1062},{"t":"2007-04","c":"CD","v":1068},{"t":"2007-05","c":"CD","v":1072},{"t":"2007-06","c":"CD","v":1075},{"t":"2007-07","c":"CD","v":1078},{"t":"2007-08","c":"CD","v":1083},{"t":"2007-09","c":"CD","v":1085},{"t":"2007-10","c":"CD","v":1088},{"t":"2007-11","c":"CD","v":1090},{"t":"2007-12","c":"CD","v":1090},
{"t":"2008-01","c":"CD","v":1090},{"t":"2008-02","c":"CD","v":1090},{"t":"2008-03","c":"CD","v":1090},{"t":"2008-04","c":"CD","v":1088},{"t":"2008-05","c":"CD","v":1086},{"t":"2008-06","c":"CD","v":1084},{"t":"2008-07","c":"CD","v":1080},{"t":"2008-08","c":"CD","v":1070},{"t":"2008-09","c":"CD","v":1060},{"t":"2008-10","c":"CD","v":1048},{"t":"2008-11","c":"CD","v":1040},{"t":"2008-12","c":"CD","v":1035},
{"t":"2009-01","c":"CD","v":1032},{"t":"2009-02","c":"CD","v":1030},{"t":"2009-03","c":"CD","v":1035},{"t":"2009-04","c":"CD","v":1042},{"t":"2009-05","c":"CD","v":1050},{"t":"2009-06","c":"CD","v":1060},{"t":"2009-07","c":"CD","v":1080},{"t":"2009-08","c":"CD","v":1100},{"t":"2009-09","c":"CD","v":1115},{"t":"2009-10","c":"CD","v":1130},{"t":"2009-11","c":"CD","v":1145},{"t":"2009-12","c":"CD","v":1158},
{"t":"2010-01","c":"CD","v":1170},{"t":"2010-02","c":"CD","v":1182},{"t":"2010-03","c":"CD","v":1195},{"t":"2010-04","c":"CD","v":1205},{"t":"2010-05","c":"CD","v":1215},{"t":"2010-06","c":"CD","v":1225},{"t":"2010-07","c":"CD","v":1235},{"t":"2010-08","c":"CD","v":1245},{"t":"2010-09","c":"CD","v":1255},{"t":"2010-10","c":"CD","v":1265},{"t":"2010-11","c":"CD","v":1275},{"t":"2010-12","c":"CD","v":1282},
{"t":"2011-01","c":"CD","v":1288},{"t":"2011-02","c":"CD","v":1293},{"t":"2011-03","c":"CD","v":1298},{"t":"2011-04","c":"CD","v":1303},{"t":"2011-05","c":"CD","v":1310},{"t":"2011-06","c":"CD","v":1316},{"t":"2011-07","c":"CD","v":1318},{"t":"2011-08","c":"CD","v":1318},{"t":"2011-09","c":"CD","v":1316},{"t":"2011-10","c":"CD","v":1310},{"t":"2011-11","c":"CD","v":1300},{"t":"2011-12","c":"CD","v":1290},
{"t":"2012-01","c":"CD","v":1278},{"t":"2012-02","c":"CD","v":1270},{"t":"2012-03","c":"CD","v":1260},{"t":"2012-04","c":"CD","v":1256},{"t":"2012-05","c":"CD","v":1258},{"t":"2012-06","c":"CD","v":1262},{"t":"2012-07","c":"CD","v":1268},{"t":"2012-08","c":"CD","v":1272},{"t":"2012-09","c":"CD","v":1275},{"t":"2012-10","c":"CD","v":1276},{"t":"2012-11","c":"CD","v":1278},{"t":"2012-12","c":"CD","v":1290},
{"t":"2013-01","c":"CD","v":1305},{"t":"2013-02","c":"CD","v":1320},{"t":"2013-03","c":"CD","v":1331},{"t":"2013-04","c":"CD","v":1345},{"t":"2013-05","c":"CD","v":1355},{"t":"2013-06","c":"CD","v":1365},{"t":"2013-07","c":"CD","v":1372},{"t":"2013-08","c":"CD","v":1380},{"t":"2013-09","c":"CD","v":1388},{"t":"2013-10","c":"CD","v":1395},{"t":"2013-11","c":"CD","v":1400}
]},
"data":{"name":"d"},
"encoding":{
"x":{"field":"t","type":"temporal","scale":{"type":"utc","domain":[{"year":2005,"month":1,"date":1,"utc":true},{"year":2013,"month":11,"date":1,"utc":true}],"nice":false},
"axis":{"title":"t","format":"%Y/%-m","tickCount":{"interval":"year","step":1},"grid":false,"tickSize":-8,"labelPadding":13,"labelFontSize":21,"labelFont":"'Liberation Serif', 'DejaVu Serif', serif","labelColor":"#222222","tickColor":"#555555","domainColor":"#555555","labelFlush":false,"labelOverlap":false,"titleFont":"'Liberation Serif', 'DejaVu Serif', serif","titleFontSize":33,"titleFontStyle":"italic","titleFontWeight":"normal","titleColor":"#222222","titlePadding":-7}},
"y":{"field":"v","type":"quantitative","scale":{"domain":[670,4320],"nice":false,"zero":false},
"axis":{"title":"yᵢ(t)","format":"d","values":[1000,1500,2000,2500,3000,3500,4000],"grid":false,"tickSize":-8,"labelPadding":13,"labelFontSize":21,"labelFont":"'Liberation Serif', 'DejaVu Serif', serif","labelColor":"#222222","tickColor":"#555555","domainColor":"#555555","titleFont":"'Liberation Serif', 'DejaVu Serif', serif","titleFontSize":36,"titleFontStyle":"italic","titleFontWeight":"normal","titleColor":"#222222","titlePadding":6}},
"color":{"field":"c","type":"nominal","scale":{"domain":["BJ","SH","GZ","SZ","TJ","WH","CQ","NJ","HZ","CD"],"range":["#ed1c24","#f7941d","#c8da2a","#6cbe45","#6cbe45","#6ccbdd","#3c6db5","#4452a3","#9650a0","#ec1c8e"]},
"legend":{"title":null,"orient":"none","legendX":19,"legendY":9,"direction":"horizontal","columns":10,"symbolSize":196,"symbolStrokeWidth":0,"labelFont":"'Liberation Serif', 'DejaVu Serif', serif","labelFontSize":25,"labelColor":"#1a1a1a","labelOffset":10,"columnPadding":5,"padding":0,"labelLimit":0}}
},
"layer":[
{"transform":[{"filter":"false"}],"mark":{"type":"point","filled":true,"opacity":1},
"encoding":{"shape":{"field":"c","type":"nominal","scale":{"domain":["BJ","SH","GZ","SZ","TJ","WH","CQ","NJ","HZ","CD"],"range":[
"M-2.6 -0.14H2.6V0.14H-2.6ZM-1 0A1 1 0 0 1 1 0A1 1 0 0 1 -1 0Z",
"M-2.6 -0.14H2.6V0.14H-2.6ZM-0.11 -0.95H0.11V-0.11H0.95V0.11H0.11V0.95H-0.11V0.11H-0.95V-0.11H-0.11Z",
"M-2.6 -0.14H2.6V0.14H-2.6ZM-0.8 -0.8H0.8V0.8H-0.8Z",
"M-2.6 -0.14H2.6V0.14H-2.6ZM0.481 -0.622L0.622 -0.481L0.141 0L0.622 0.481L0.481 0.622L0 0.141L-0.481 0.622L-0.622 0.481L-0.141 0L-0.622 -0.481L-0.481 -0.622L0 -0.141Z",
"M-2.6 -0.14H2.6V0.14H-2.6ZM0 -1.2L1.15 0L0 1.2L-1.15 0Z",
"M-2.6 -0.14H2.6V0.14H-2.6ZM0 -1.05L1.2 0.95H-1.2Z",
"M-2.6 -0.14H2.6V0.14H-2.6ZM-0.95 0L0.95 -1.25V1.25Z",
"M-2.6 -0.14H2.6V0.14H-2.6ZM0.95 0L-0.95 1.25V-1.25Z",
"M-2.6 -0.14H2.6V0.14H-2.6ZM-0.1 -0.85H0.1V-0.1H0.85V0.1H0.1V0.85H-0.1V0.1H-0.85V-0.1H-0.1ZM0.53 -0.672L0.672 -0.53L0.141 0L0.672 0.53L0.53 0.672L0 0.141L-0.53 0.672L-0.672 0.53L-0.141 0L-0.672 -0.53L-0.53 -0.672L0 -0.141Z",
"M-2.6 -0.14H2.6V0.14H-2.6ZM0 -1.2L0.27 -0.372L1.141 -0.371L0.437 0.142L0.705 0.971L0 0.46L-0.705 0.971L-0.437 0.142L-1.141 -0.371L-0.27 -0.372Z"]},
"legend":{"title":null,"orient":"none","legendX":19,"legendY":9,"direction":"horizontal","columns":10,"symbolSize":196,"symbolStrokeWidth":0,"labelFont":"'Liberation Serif', 'DejaVu Serif', serif","labelFontSize":25,"labelColor":"#1a1a1a","labelOffset":10,"columnPadding":5,"padding":0,"labelLimit":0}}}},
{"transform":[{"filter":"datum.c==='BJ'"}],"mark":{"type":"line","strokeWidth":1.5,"clip":true}},
{"transform":[{"filter":"datum.c==='BJ'"}],"mark":{"type":"point","shape":"circle","filled":true,"size":160,"opacity":1,"clip":true}},
{"transform":[{"filter":"datum.c==='SH'"}],"mark":{"type":"line","strokeWidth":1.5,"clip":true}},
{"transform":[{"filter":"datum.c==='SH'"}],"mark":{"type":"point","shape":"M-1 0H1M0 -1V1","filled":false,"size":144,"strokeWidth":1.6,"opacity":1,"clip":true}},
{"transform":[{"filter":"datum.c==='GZ'"}],"mark":{"type":"line","strokeWidth":1.5,"clip":true}},
{"transform":[{"filter":"datum.c==='GZ'"}],"mark":{"type":"point","shape":"square","filled":true,"size":130,"opacity":1,"clip":true}},
{"transform":[{"filter":"datum.c==='SZ'"}],"mark":{"type":"line","strokeWidth":1.5,"clip":true}},
{"transform":[{"filter":"datum.c==='SZ'"}],"mark":{"type":"point","shape":"M-1 -1L1 1M-1 1L1 -1","filled":false,"size":56,"strokeWidth":1.4,"opacity":1,"clip":true}},
{"transform":[{"filter":"datum.c==='TJ'"}],"mark":{"type":"line","strokeWidth":1.5,"clip":true}},
{"transform":[{"filter":"datum.c==='TJ'"}],"mark":{"type":"point","shape":"M0 -1.35L1 0L0 1.35L-1 0Z","filled":true,"size":121,"opacity":1,"clip":true}},
{"transform":[{"filter":"datum.c==='WH'"}],"mark":{"type":"line","strokeWidth":1.5,"clip":true}},
{"transform":[{"filter":"datum.c==='WH'"}],"mark":{"type":"point","shape":"M0 -1L1.2 0.9H-1.2Z","filled":true,"size":121,"opacity":1,"clip":true}},
{"transform":[{"filter":"datum.c==='CQ'"}],"mark":{"type":"line","strokeWidth":1.5,"clip":true}},
{"transform":[{"filter":"datum.c==='CQ'"}],"mark":{"type":"point","shape":"M-1 0L0.9 -1.2V1.2Z","filled":true,"size":121,"opacity":1,"clip":true}},
{"transform":[{"filter":"datum.c==='NJ'"}],"mark":{"type":"line","strokeWidth":1.5,"clip":true}},
{"transform":[{"filter":"datum.c==='NJ'"}],"mark":{"type":"point","shape":"M1 0L-0.9 1.2V-1.2Z","filled":true,"size":121,"opacity":1,"clip":true}},
{"transform":[{"filter":"datum.c==='HZ'"}],"mark":{"type":"line","strokeWidth":1.5,"clip":true}},
{"transform":[{"filter":"datum.c==='HZ'"}],"mark":{"type":"point","shape":"M-1 0H1M0 -1V1M-0.7 -0.7L0.7 0.7M-0.7 0.7L0.7 -0.7","filled":false,"size":110,"strokeWidth":1.3,"opacity":1,"clip":true}},
{"transform":[{"filter":"datum.c==='CD'"}],"mark":{"type":"line","strokeWidth":1.5,"clip":true}},
{"transform":[{"filter":"datum.c==='CD'"}],"mark":{"type":"point","shape":"M0 -1.2L0.27 -0.372L1.141 -0.371L0.437 0.142L0.705 0.971L0 0.46L-0.705 0.971L-0.437 0.142L-1.141 -0.371L-0.27 -0.372Z","filled":true,"size":121,"opacity":1,"clip":true}}
]
}
